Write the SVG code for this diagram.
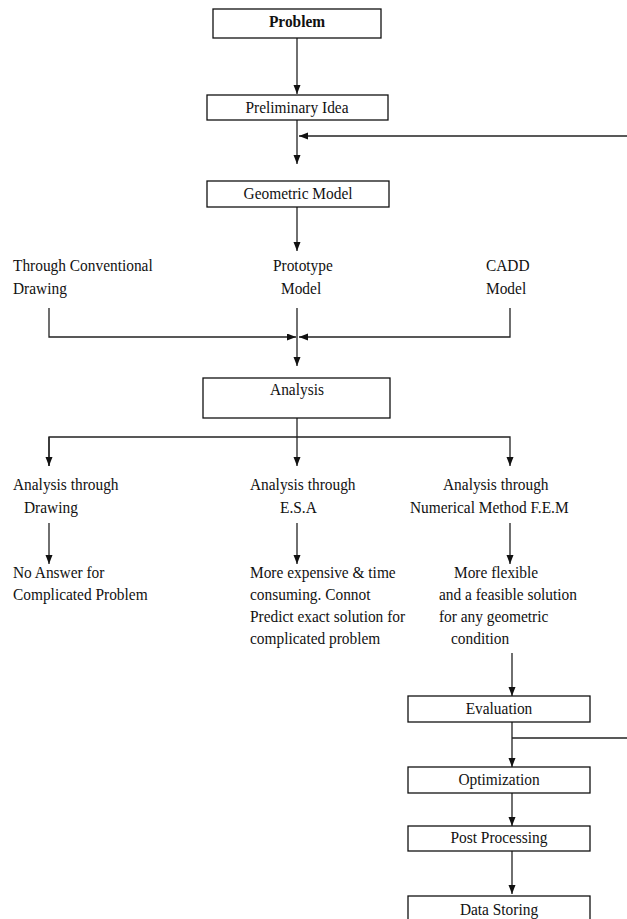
<svg xmlns="http://www.w3.org/2000/svg" width="627" height="919" viewBox="0 0 627 919">
<style>
  .box{fill:#fff;stroke:#111;stroke-width:1.3}
  .ln{fill:none;stroke:#222;stroke-width:1.3}
  .t{font-family:"Liberation Serif","Times New Roman",serif;font-size:17.5px;fill:#111;transform-box:fill-box;transform-origin:0 0;transform:scaleX(0.88)}
  .c{text-anchor:middle;transform-origin:50% 0}
  .b{font-weight:bold}
</style>
<defs>
  <marker id="ah" markerUnits="userSpaceOnUse" markerWidth="10" markerHeight="8" refX="9" refY="3.5" orient="auto">
    <path d="M0,0 L9,3.5 L0,7 z" fill="#111"/>
  </marker>
</defs>
<rect width="627" height="919" fill="#fff"/>
<g id="connectors">
  <line class="ln" x1="297" y1="38" x2="297" y2="94" marker-end="url(#ah)"/>
  <line class="ln" x1="297" y1="120" x2="297" y2="164" marker-end="url(#ah)"/>
  <line class="ln" x1="628" y1="136" x2="299" y2="136" marker-end="url(#ah)"/>
  <line class="ln" x1="297" y1="207" x2="297" y2="251" marker-end="url(#ah)"/>
  <polyline class="ln" points="49,308 49,337 296,337" marker-end="url(#ah)"/>
  <polyline class="ln" points="510,308 510,337 299,337" marker-end="url(#ah)"/>
  <line class="ln" x1="297" y1="308" x2="297" y2="366" marker-end="url(#ah)"/>
  <line class="ln" x1="297" y1="418" x2="297" y2="466" marker-end="url(#ah)"/>
  <polyline class="ln" points="49,466 49,437 510,437 510,466" marker-end="url(#ah)"/>
  <line class="ln" x1="49" y1="437" x2="49" y2="466" marker-end="url(#ah)"/>
  <line class="ln" x1="49" y1="523" x2="49" y2="564" marker-end="url(#ah)"/>
  <line class="ln" x1="297" y1="523" x2="297" y2="564" marker-end="url(#ah)"/>
  <line class="ln" x1="510" y1="523" x2="510" y2="564" marker-end="url(#ah)"/>
  <line class="ln" x1="512" y1="653" x2="512" y2="696" marker-end="url(#ah)"/>
  <line class="ln" x1="512" y1="722" x2="512" y2="767" marker-end="url(#ah)"/>
  <line class="ln" x1="512" y1="738" x2="628" y2="738"/>
  <line class="ln" x1="512" y1="793" x2="512" y2="826" marker-end="url(#ah)"/>
  <line class="ln" x1="512" y1="851" x2="512" y2="894" marker-end="url(#ah)"/>
</g>
<g id="problem">
  <rect class="box" x="213" y="9" width="168" height="29"/>
  <text class="t c b" x="297" y="27">Problem</text>
</g>
<g id="preliminary">
  <rect class="box" x="207" y="95" width="181" height="25"/>
  <text class="t c" x="297" y="113">Preliminary  Idea</text>
</g>
<g id="geometric">
  <rect class="box" x="207" y="181" width="182" height="26"/>
  <text class="t c" x="298" y="199">Geometric Model</text>
</g>
<g id="conventional">
  <text class="t" x="13" y="271">Through Conventional</text>
  <text class="t" x="13" y="294">Drawing</text>
</g>
<g id="prototype">
  <text class="t" x="273" y="271">Prototype</text>
  <text class="t" x="281" y="294">Model</text>
</g>
<g id="cadd">
  <text class="t" x="486" y="271">CADD</text>
  <text class="t" x="486" y="294">Model</text>
</g>
<g id="analysis">
  <rect class="box" x="203" y="378" width="187" height="40"/>
  <text class="t c" x="297" y="395">Analysis</text>
</g>
<g id="drawing-analysis">
  <text class="t" x="13" y="490">Analysis through</text>
  <text class="t" x="24" y="513">Drawing</text>
</g>
<g id="esa-analysis">
  <text class="t" x="250" y="490">Analysis through</text>
  <text class="t" x="280" y="513">E.S.A</text>
</g>
<g id="fem-analysis">
  <text class="t" x="443" y="490">Analysis through</text>
  <text class="t" x="410" y="513">Numerical  Method F.E.M</text>
</g>
<g id="no-answer">
  <text class="t" x="13" y="578">No Answer for</text>
  <text class="t" x="13" y="600">Complicated Problem</text>
</g>
<g id="expensive">
  <text class="t" x="250" y="578">More expensive &amp; time</text>
  <text class="t" x="250" y="600">consuming. Connot</text>
  <text class="t" x="250" y="622">Predict exact solution  for</text>
  <text class="t" x="250" y="644">complicated problem</text>
</g>
<g id="flexible">
  <text class="t" x="454" y="578">More flexible</text>
  <text class="t" x="439" y="600">and a feasible solution</text>
  <text class="t" x="439" y="622">for any geometric</text>
  <text class="t" x="451" y="644">condition</text>
</g>
<g id="evaluation">
  <rect class="box" x="408" y="696" width="182" height="26"/>
  <text class="t c" x="499" y="714">Evaluation</text>
</g>
<g id="optimization">
  <rect class="box" x="408" y="767" width="182" height="26"/>
  <text class="t c" x="499" y="785">Optimization</text>
</g>
<g id="post-processing">
  <rect class="box" x="408" y="826" width="182" height="25"/>
  <text class="t c" x="499" y="843">Post Processing</text>
</g>
<g id="data-storing">
  <rect class="box" x="408" y="896" width="182" height="30"/>
  <text class="t c" x="499" y="915">Data Storing</text>
</g>
</svg>
